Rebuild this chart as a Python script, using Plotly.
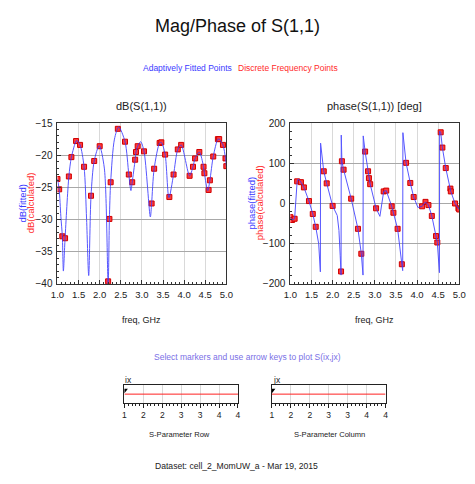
import plotly.graph_objects as go

# ---------------- data ----------------
disc_freq = [1.0, 1.04, 1.115, 1.18, 1.27, 1.33, 1.44, 1.535, 1.63, 1.795, 1.87, 2.0,
             2.2, 2.23, 2.26, 2.43, 2.6, 2.69, 2.77, 2.84, 2.86, 2.9, 3.05, 3.23, 3.29,
             3.42, 3.46, 3.55, 3.65, 3.75, 3.85, 3.93, 4.13, 4.21, 4.26, 4.36, 4.46, 4.48,
             4.58, 4.61, 4.69, 4.8, 4.83, 4.92, 4.98, 5.0]
disc_db = [-23.7, -25.3, -32.6, -32.9, -23.3, -20.3, -17.8, -18.4, -21.8, -26.3, -20.9, -18.6,
           -39.6, -29.9, -24.2, -15.9, -17.9, -23.0, -24.2, -20.7, -19.5, -18.6, -19.4, -27.5, -22.1,
           -18.1, -18.0, -19.9, -26.5, -23.0, -19.1, -18.4, -23.2, -21.8, -20.5, -19.5, -21.8, -22.8,
           -25.4, -23.9, -20.2, -17.5, -17.5, -18.4, -20.5, -21.7]

disc_pfreq = [1.0, 1.04, 1.1, 1.16, 1.25, 1.32, 1.44, 1.53, 1.6, 1.79, 1.86, 2.0,
              2.2, 2.22, 2.26, 2.44, 2.6, 2.68, 2.77, 2.84, 2.86, 2.89, 3.03, 3.21, 3.27,
              3.40, 3.44, 3.54, 3.64, 3.74, 3.84, 3.92, 4.12, 4.2, 4.27, 4.35, 4.45, 4.48,
              4.56, 4.6, 4.68, 4.79, 4.8, 4.9, 4.98, 5.0]
disc_phase = [-34, -41, -38, 55, 53, 40, 6, -26, -58, 80, 50, -6,
              -169, 105, 84, 12, -63, -125, 129, 80, 63, 48, -12, 30, 32,
              -7, -23, -63, -151, 101, 51, 16, -7, 4, -4, -31, -81, -97,
              177, 139, 88, 37, 30, 0, -12, -15]

fit_freq = [1.0, 1.04, 1.08, 1.115, 1.14, 1.18, 1.27, 1.33, 1.44, 1.46, 1.535, 1.63, 1.69,
            1.74, 1.795, 1.87, 1.99, 2.11, 2.2, 2.23, 2.26, 2.35, 2.45, 2.6, 2.69, 2.74,
            2.77, 2.84, 2.86, 2.9, 2.97, 3.05, 3.2, 3.23, 3.29, 3.42, 3.46, 3.55, 3.64,
            3.75, 3.85, 3.93, 4.13, 4.21, 4.26, 4.36, 4.46, 4.48, 4.56, 4.61, 4.69, 4.8,
            4.83, 4.92, 4.98, 5.0]
fit_db = [-23.7, -25.3, -29.5, -32.6, -38.0, -32.9, -23.3, -20.3, -17.8, -17.7, -18.4, -21.8, -30.0,
          -38.7, -26.3, -20.9, -18.5, -22.0, -40.0, -29.9, -24.2, -17.5, -15.6, -17.9, -23.0, -25.5,
          -24.2, -20.7, -19.5, -18.6, -17.9, -19.4, -29.6, -27.5, -22.1, -18.1, -18.0, -19.9, -26.6,
          -23.0, -19.1, -18.4, -23.2, -21.8, -20.5, -19.5, -21.8, -22.8, -25.5, -23.9, -20.2, -17.5,
          -17.5, -18.4, -20.5, -21.7]

fit_pfreq = [1.0, 1.04, 1.1, 1.13, 1.16, 1.19, 1.25, 1.32, 1.44, 1.53, 1.6, 1.67, 1.71,
             1.715, 1.74, 1.79, 1.86, 2.0, 2.11, 2.15, 2.18, 2.2, 2.205, 2.22, 2.26, 2.44,
             2.6, 2.68, 2.72, 2.725, 2.77, 2.84, 2.86, 2.89, 3.03, 3.12, 3.21, 3.27, 3.40,
             3.44, 3.54, 3.64, 3.66, 3.665, 3.74, 3.84, 3.92, 4.02, 4.12, 4.2, 4.27, 4.35,
             4.45, 4.48, 4.53, 4.535, 4.56, 4.6, 4.68, 4.79, 4.8, 4.9, 4.98, 5.0]
fit_phase = [-34, -41, -38, 20, 55, 61, 53, 40, 6, -26, -58, -100, -170,
             150, 120, 80, 50, -6, -30, -67, -130, -178, 170, 105, 84, 12,
             -63, -125, -178, 168, 129, 80, 63, 48, -12, -32, 30, 32, -7,
             -23, -63, -151, -167, 176, 101, 51, 16, -10, -7, 4, -4, -31,
             -81, -97, -172, 180, 177, 139, 88, 37, 30, 0, -12, -15]

db_ticks = [-40, -35, -30, -25, -20, -15]
phase_ticks = [-200, -100, 0, 100, 200]
freq_ticks = [1.0, 1.5, 2.0, 2.5, 3.0, 3.5, 4.0, 4.5, 5.0]
slider_ticks = [1, 1.5, 2, 2.5, 3, 3.5, 4]
slider_ticktext = ["1", "2", "2", "3", "3", "4", "4"]
slider_range = [1, 4]
slider_pos = 1

W, H = 475, 484
def px(x):
    return x / W
def py(y):
    return 1 - y / H

BLUE = "#3a3aff"
RED = "#ff2a2a"
FONT = "Liberation Sans, Arial, sans-serif"

fig = go.Figure()

mk = dict(symbol="square", size=5, color="#ff3b3b", line=dict(color="#d00000", width=1))
fig.add_trace(go.Scatter(x=disc_freq, y=disc_db, mode="markers", xaxis="x", yaxis="y",
                         marker=mk, showlegend=False))
fig.add_trace(go.Scatter(x=fit_freq, y=fit_db, mode="lines", xaxis="x", yaxis="y",
                         line=dict(color=BLUE, width=1, shape="spline", smoothing=0.8),
                         opacity=0.85, showlegend=False))
fig.add_trace(go.Scatter(x=disc_pfreq, y=disc_phase, mode="markers", xaxis="x2", yaxis="y2",
                         marker=mk, showlegend=False))
fig.add_trace(go.Scatter(x=fit_pfreq, y=fit_phase, mode="lines", xaxis="x2", yaxis="y2",
                         line=dict(color=BLUE, width=1), opacity=0.85, showlegend=False))

for xa, ya in (("x3", "y3"), ("x4", "y4")):
    fig.add_trace(go.Scatter(x=slider_range, y=[0.5, 0.5], mode="lines", xaxis=xa, yaxis=ya,
                             line=dict(color="#ff2020", width=1), showlegend=False))
    fig.add_trace(go.Scatter(x=[slider_pos], y=[0.72], mode="markers", xaxis=xa, yaxis=ya,
                             marker=dict(symbol="triangle-down", size=6, color="black"),
                             showlegend=False))

def main_x(domain, anchor):
    return dict(domain=domain, anchor=anchor, range=[1, 5], tickvals=freq_ticks,
                ticktext=[f"{v:.1f}" for v in freq_ticks], showline=True, linecolor="#333",
                mirror=True, ticks="inside", ticklen=4, tickcolor="#333",
                minor=dict(dtick=0.1, tick0=1, ticks="inside", ticklen=2, tickcolor="#333"),
                showgrid=True, gridcolor="#d9d9d9", gridwidth=1, zeroline=False,
                tickfont=dict(size=9.5, family=FONT, color="#222"), ticklabelstandoff=2)

def main_y(domain, anchor, rng, ticks, minor):
    return dict(domain=domain, anchor=anchor, range=rng, tickvals=ticks, showline=True,
                linecolor="#333", mirror=True, ticks="inside", ticklen=4, tickcolor="#333",
                minor=dict(dtick=minor, tick0=rng[0], ticks="inside", ticklen=2, tickcolor="#333"),
                showgrid=True, gridcolor="#a8a8a8", gridwidth=1, zeroline=False,
                tickfont=dict(size=10, family=FONT, color="#222"), ticklabelstandoff=2)

ydom = [py(285), py(120)]

def slider_x(domain, anchor):
    return dict(domain=domain, anchor=anchor, range=slider_range, tickvals=slider_ticks,
                ticktext=slider_ticktext, showline=True, linecolor="#222", mirror=True,
                ticks="outside", ticklen=4, tickcolor="#222",
                minor=dict(dtick=0.1, tick0=1, ticks="outside", ticklen=2, tickcolor="#222"),
                showgrid=True, gridcolor="#d9d9d9", zeroline=False,
                tickfont=dict(size=8.5, family=FONT, color="#222"))

def slider_y(domain, anchor):
    return dict(domain=domain, anchor=anchor, range=[0, 1], showticklabels=False, ticks="",
                showgrid=False, zeroline=False, showline=True, linecolor="#222", mirror=True)

sdom = [py(407), py(389)]

fig.update_layout(
    width=W, height=H, margin=dict(l=0, r=0, t=0, b=0),
    paper_bgcolor="white", plot_bgcolor="white",
    font=dict(family=FONT, color="#222"),
    xaxis=main_x([px(52), px(226)], "y"),
    yaxis=main_y(ydom, "x", [-40, -15], db_ticks, 1),
    xaxis2=main_x([px(292), px(466)], "y2"),
    yaxis2=main_y(ydom, "x2", [-200, 200], phase_ticks, 20),
    xaxis3=slider_x([px(121), px(238)], "y3"),
    yaxis3=slider_y(sdom, "x3"),
    xaxis4=slider_x([px(273), px(390)], "y4"),
    yaxis4=slider_y(sdom, "x4"),
)

ann = []
def text(x, y, s, size=10, color="#222", angle=0, xanchor="center"):
    ann.append(dict(x=px(x), y=py(y), xref="paper", yref="paper", text=s, showarrow=False,
                    font=dict(size=size, color=color, family=FONT), textangle=angle,
                    xanchor=xanchor, yanchor="middle"))

text(237, 20, "Mag/Phase of S(1,1)", size=18, color="#111")
text(186, 64, "Adaptively Fitted Points", size=8.5, color=BLUE)
text(290, 64, "Discrete Frequency Points", size=8.5, color=RED)
text(139, 103, "dB(S(1,1))", size=11)
text(379, 103, "phase(S(1,1)) [deg]", size=11)
text(16, 202, "dB(fitted)", size=9.5, color=BLUE, angle=-90)
text(25, 202, "dB(calculated)", size=9.5, color=RED, angle=-90)
text(252, 202, "phase(fitted)", size=9.5, color=BLUE, angle=-90)
text(261, 202, "phase(calculated)", size=9.5, color=RED, angle=-90)
text(139, 322, "freq, GHz", size=9)
text(379, 322, "freq, GHz", size=9)
text(248, 360, "Select markers and use arrow keys to plot S(ix,jx)", size=8.5, color="#7a6fe6")
text(120, 384, "ix", size=8.5, xanchor="left")
text(272, 384, "jx", size=8.5, xanchor="left")
text(178, 439, "S-Parameter Row", size=7.6)
text(332, 439, "S-Parameter Column", size=7.6)
text(236, 472, "Dataset: cell_2_MomUW_a - Mar 19, 2015", size=8.6)
fig.update_layout(annotations=ann)

fig.write_html("out.html")
